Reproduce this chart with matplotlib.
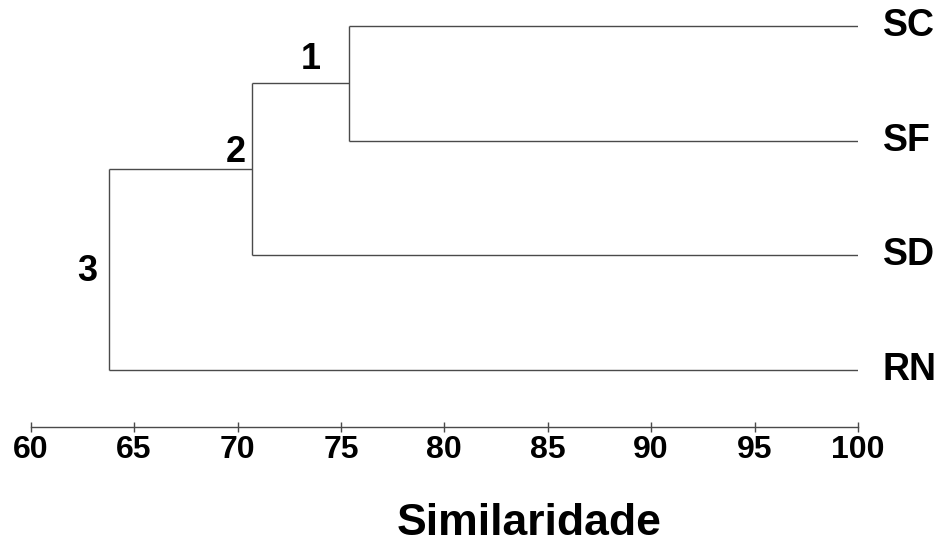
import matplotlib
matplotlib.use('Agg')
import matplotlib.pyplot as plt
import numpy as np

# dendrogram data (similarity %)
leaves = ['SC', 'SF', 'SD', 'RN']
merge_left = ['SC', '1', '2']
merge_right = ['SF', 'SD', 'RN']
merge_sim = [75.4, 70.7, 63.8]
node_names = ['1', '2', '3']
xticks = [60, 65, 70, 75, 80, 85, 90, 95, 100]

plt.rcParams['font.family'] = ['Liberation Sans', 'DejaVu Sans']
plt.rcParams['font.weight'] = 'bold'

fig = plt.figure(figsize=(9.47, 5.45), dpi=100)
ax = fig.add_axes([0.0324, 0.2171, 0.8736, 0.7829])

line_kw = dict(color='#4a4a4a', lw=1.0, solid_capstyle='butt')

# leaf positions: top to bottom
pos = {}
for i, name in enumerate(leaves):
    pos[name] = (100, len(leaves) - 1 - i)
    ax.text(101.2, pos[name][1], name, fontsize=27, fontweight='bold',
            ha='left', va='center')

# offsets of node labels in points
label_off = [(-28, 17), (-12, 12), (-16, -1)]

for a, b, s, nm, off in zip(merge_left, merge_right, merge_sim, node_names, label_off):
    xa, ya = pos[a]
    xb, yb = pos[b]
    ax.plot([xa, s], [ya, ya], **line_kw)
    ax.plot([xb, s], [yb, yb], **line_kw)
    ax.plot([s, s], [ya, yb], **line_kw)
    ym = (ya + yb) / 2
    pos[nm] = (s, ym)
    ax.annotate(nm, (s, ym), xytext=off, textcoords='offset points',
                fontsize=26, fontweight='bold', ha='center', va='center')

ax.set_xlim(60, 100)
ax.set_ylim(-0.494, 3.227)
ax.set_xticks(xticks)
ax.set_xticklabels([str(t) for t in xticks], fontsize=23, fontweight='bold')
ax.tick_params(axis='x', direction='inout', length=6.5, width=1.0,
               color='#4a4a4a', pad=3)
ax.set_yticks([])
for side in ['left', 'top', 'right']:
    ax.spines[side].set_visible(False)
ax.spines['bottom'].set_color('#4a4a4a')
ax.spines['bottom'].set_linewidth(1.0)

fig.text(0.5586, 0.001, 'Similaridade', fontsize=32, fontweight='bold',
         ha='center', va='bottom')

fig.savefig('out.png', dpi=100)
plt.close()
